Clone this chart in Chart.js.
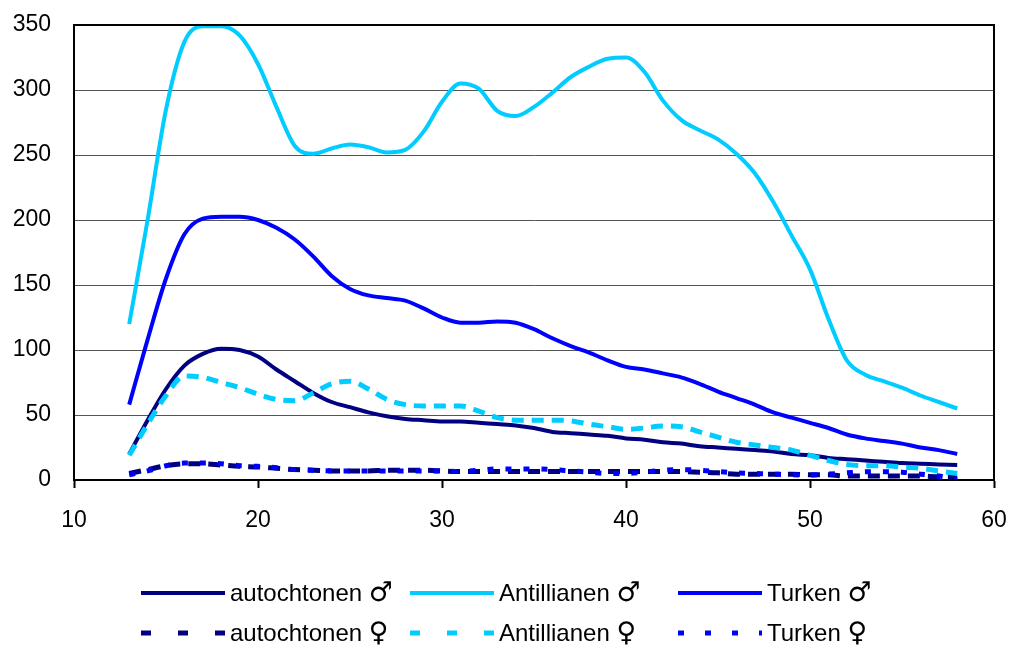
<!DOCTYPE html>
<html>
<head>
<meta charset="utf-8">
<script src="https://cdn.jsdelivr.net/npm/chart.js@4.4.1/dist/chart.umd.min.js"></script>
<style>
  html, body { margin: 0; padding: 0; background: #ffffff; }
  #wrap { position: relative; width: 1011px; height: 648px; }
</style>
</head>
<body>
<div id="wrap"><canvas id="c" width="1011" height="648"></canvas></div>
<script>
// ---- data ----
const ages = [13,14,15,16,17,18,19,20,21,22,23,24,25,26,27,28,29,30,31,32,33,34,35,36,37,38,39,40,41,42,43,44,45,46,47,48,49,50,51,52,53,54,55,56,57,58];

const autochtonenM = [20,46,70,88,97,101,100,95,85,76,67,60,56,52,49,47,46,45,45,44,43,42,40,37,36,35,34,32,31,29,28,26,25,24,23,22,20,19,17,16,15,14,13,12.5,12,11.5];
const antillianenM = [120,200,285,337,349,349,342,320,287,257,251,255,258,256,252,254,268,291,305,301,284,280,287,298,310,318,324,325,314,292,277,269,262,251,236,214,188,162,124,92,81,76,71,65,60,55];
const turkenM = [58,108,155,189,201,202.5,202.5,200,194,185,172,157,147,142,140,138,132,125,121,121,122,121,116,109,103,98,92,87,85,82,79,74,68,63,58,52,48,44,40,35,32,30,28,25,23,20];
const autochtonenF = [5,8,11,12.5,12.5,11.5,10.5,10,9,8,7.5,7,7,7,7.5,7.5,7.5,7,6.5,6.5,6.5,6.5,6.5,6.5,6.5,6.5,6.5,6.5,6.5,6.5,6.5,6,5.5,4.5,4.5,4.5,4.5,4,4,3,3,3,3,3,2.5,2.5];
const antillianenF = [19,43,65,80,79,75,71,66,62,61,67,74,76,70,62,58,57,57,57,53,48,46,46,46,45.5,43,41,39,40,41.5,41,37,33,29,27,25,23,19,15,12,11,11,10,9,7,5];
const turkenF = [4,7,11,13,13,12.5,11,10.5,9.5,8,7.5,7,7,7,7,7,7,7,6.5,7.5,8.5,8.5,8.5,8,7,6,5,5,6,7.5,8,7.5,6.5,5.5,5,4.5,4,3.8,4.5,5.5,6.3,6.4,6,4.5,3,0.5];

const seriesNames = ['autochtonen', 'Antillianen', 'Turken', 'autochtonen', 'Antillianen', 'Turken'];
const seriesSex = ['\u2642', '\u2642', '\u2642', '\u2640', '\u2640', '\u2640'];
const xTicks = [10, 20, 30, 40, 50, 60];
const yTicks = [0, 50, 100, 150, 200, 250, 300, 350];

// ---- styles ----
const NAVY = '#000080', CYAN = '#00CCFF', BLUE = '#0000FF';
const FONT = "'Liberation Sans', Arial, sans-serif";

function pts(vals) { return ages.map((a, i) => ({ x: a, y: vals[i] })); }

const styles = [
  { color: NAVY, width: 4, dash: [], legendDash: [] },
  { color: CYAN, width: 4, dash: [], legendDash: [] },
  { color: BLUE, width: 4, dash: [], legendDash: [] },
  { color: NAVY, width: 5, dash: [12, 8], legendDash: [10, 27] },
  { color: CYAN, width: 5, dash: [12, 8], legendDash: [10, 27] },
  { color: BLUE, width: 5, dash: [6, 12], legendDash: [6, 21] }
];
const seriesData = [autochtonenM, antillianenM, turkenM, autochtonenF, antillianenF, turkenF];
const datasets = seriesData.map((vals, i) => ({
  label: seriesNames[i] + ' ' + seriesSex[i],
  data: pts(vals),
  borderColor: styles[i].color,
  backgroundColor: styles[i].color,
  borderWidth: styles[i].width,
  borderDash: styles[i].dash,
  borderCapStyle: 'butt',
  borderJoinStyle: 'round',
  pointRadius: 0,
  pointHoverRadius: 0,
  fill: false,
  cubicInterpolationMode: 'monotone',
  order: 6 - i
}));

function noPad(scale) {
  scale.paddingTop = 0; scale.paddingBottom = 0;
  scale.paddingLeft = 0; scale.paddingRight = 0;
}

const frameAndLegend = {
  id: 'frameAndLegend',
  afterDatasetsDraw(chart) {
    const ctx = chart.ctx, a = chart.chartArea;
    ctx.save();
    ctx.strokeStyle = '#000';
    ctx.lineWidth = 2;
    ctx.strokeRect(a.left, a.top, a.right - a.left, a.bottom - a.top);
    ctx.restore();
  },
  afterDraw(chart) {
    const ctx = chart.ctx;
    const colX = [141, 410, 678];
    const rowY = [593, 633];
    const lineLen = 84;
    ctx.save();
    ctx.textBaseline = 'middle';
    ctx.textAlign = 'left';
    chart.data.datasets.forEach((ds, i) => {
      const st = styles[i];
      const x = colX[i % 3], y = rowY[Math.floor(i / 3)];
      ctx.beginPath();
      ctx.setLineDash(st.legendDash);
      ctx.lineCap = 'butt';
      ctx.strokeStyle = st.color;
      ctx.lineWidth = st.width;
      ctx.moveTo(x, y);
      ctx.lineTo(x + lineLen, y);
      ctx.stroke();
      ctx.setLineDash([]);
      ctx.fillStyle = '#000';
      ctx.font = '24px ' + FONT;
      const name = seriesNames[i];
      const tx = x + lineLen + 5;
      ctx.fillText(name, tx, y + 1);
      const w = ctx.measureText(name + ' ').width;
      ctx.font = "27px 'DejaVu Sans', sans-serif";
      ctx.fillText(seriesSex[i], tx + w, y + 1);
    });
    ctx.restore();
  }
};

new Chart(document.getElementById('c'), {
  type: 'line',
  data: { datasets },
  options: {
    responsive: false,
    animation: false,
    events: [],
    layout: { padding: { left: 0, right: 17, top: 25, bottom: 98 } },
    plugins: { legend: { display: false }, tooltip: { enabled: false } },
    scales: {
      x: {
        type: 'linear',
        min: xTicks[0], max: xTicks[xTicks.length - 1],
        afterBuildTicks(scale) { scale.ticks = xTicks.map(v => ({ value: v })); },
        afterFit(scale) { scale.height = 70; noPad(scale); },
        grid: { display: true, drawOnChartArea: false, drawTicks: true, tickLength: 8, tickColor: '#000', tickWidth: 2, color: '#000' },
        border: { display: true, color: '#000', width: 2 },
        ticks: { color: '#000', font: { family: FONT, size: 23 }, padding: 19, maxRotation: 0 }
      },
      y: {
        min: yTicks[0], max: yTicks[yTicks.length - 1],
        afterBuildTicks(scale) { scale.ticks = yTicks.map(v => ({ value: v })); },
        afterFit(scale) { scale.width = 74; noPad(scale); },
        grid: { display: true, drawTicks: false, color: '#555555', lineWidth: 1 },
        border: { display: true, color: '#000', width: 2 },
        ticks: { color: '#000', font: { family: FONT, size: 23 }, padding: 23 }
      }
    }
  },
  plugins: [frameAndLegend]
});
</script>
</body>
</html>
